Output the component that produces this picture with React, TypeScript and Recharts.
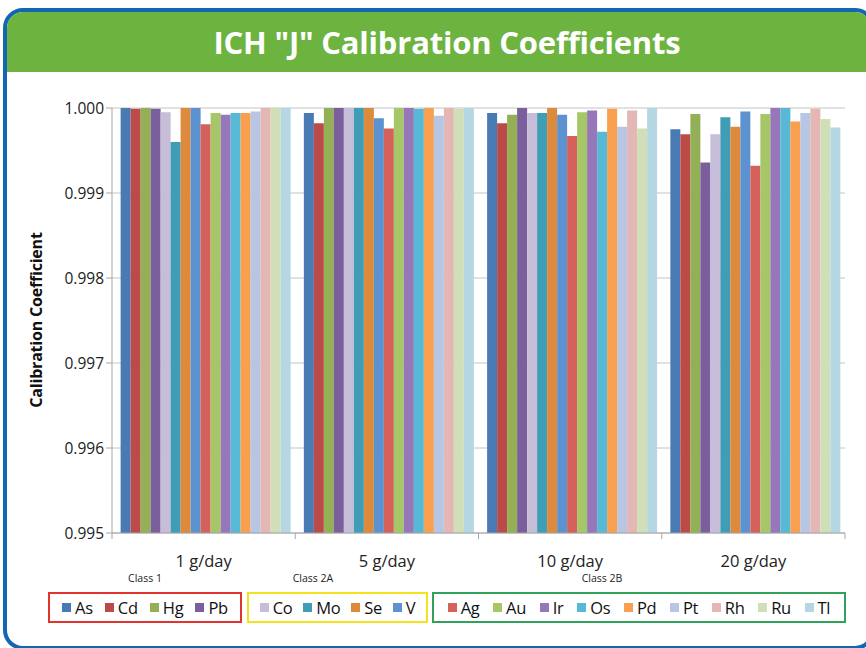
import React from "react";
import { BarChart, Bar, XAxis, YAxis, CartesianGrid } from "recharts";

// doses on the x axis
const doses = ["1 g/day", "5 g/day", "10 g/day", "20 g/day"];
const yTicks = [0.995, 0.996, 0.997, 0.998, 0.999, 1.0];

// calibration coefficient per element, one value per dose
const As = [1.0, 0.99994, 0.99994, 0.99975];
const Cd = [0.99999, 0.99982, 0.99982, 0.99969];
const Hg = [1.0, 1.0, 0.99992, 0.99993];
const Pb = [0.99999, 1.0, 1.0, 0.99936];
const Co = [0.99995, 1.0, 0.99994, 0.99969];
const Mo = [0.9996, 1.0, 0.99994, 0.99989];
const Se = [1.0, 1.0, 1.0, 0.99978];
const V = [1.0, 0.99988, 0.99992, 0.99996];
const Ag = [0.99981, 0.99976, 0.99967, 0.99932];
const Au = [0.99994, 1.0, 0.99995, 0.99993];
const Ir = [0.99992, 1.0, 0.99997, 1.0];
const Os = [0.99994, 0.99999, 0.99972, 1.0];
const Pd = [0.99994, 1.0, 0.99999, 0.99984];
const Pt = [0.99996, 0.99991, 0.99978, 0.99994];
const Rh = [1.0, 1.0, 0.99997, 0.99999];
const Ru = [1.0, 0.99999, 0.99976, 0.99987];
const Tl = [1.0, 1.0, 1.0, 0.99977];

const classes = [
  { name: "Class 1", border: "#e2332f", labelX: 145, left: 48, width: 194, elements: [
    { key: "As", values: As, color: "#4a7ab3" },
    { key: "Cd", values: Cd, color: "#bb4b48" },
    { key: "Hg", values: Hg, color: "#93b057" },
    { key: "Pb", values: Pb, color: "#7a5f9c" },
  ] },
  { name: "Class 2A", border: "#f3e21c", labelX: 313, left: 247, width: 181, elements: [
    { key: "Co", values: Co, color: "#c6bdd9" },
    { key: "Mo", values: Mo, color: "#3f9db5" },
    { key: "Se", values: Se, color: "#de8a3d" },
    { key: "V", values: V, color: "#5b92cf" },
  ] },
  { name: "Class 2B", border: "#2fa35a", labelX: 602, left: 432, width: 414, elements: [
    { key: "Ag", values: Ag, color: "#d6605a" },
    { key: "Au", values: Au, color: "#a7c667" },
    { key: "Ir", values: Ir, color: "#9678ba" },
    { key: "Os", values: Os, color: "#57b9d6" },
    { key: "Pd", values: Pd, color: "#f8a04f" },
    { key: "Pt", values: Pt, color: "#b6c6e3" },
    { key: "Rh", values: Rh, color: "#e4b7b5" },
    { key: "Ru", values: Ru, color: "#d0dfb7" },
    { key: "Tl", values: Tl, color: "#b4d7e3" },
  ] },
];

const series = classes.flatMap((c) => c.elements);

const chartData = doses.map((dose, i) => {
  const row: Record<string, any> = { dose };
  series.forEach((s) => (row[s.key] = s.values[i]));
  return row;
});

const FONT = "'Open Sans', sans-serif";
const PLOT_LEFT = 112;
const PLOT_RIGHT = 845;
const BAND = (PLOT_RIGHT - PLOT_LEFT) / doses.length;

function DoseTick(props: any) {
  const { x, y, payload, index } = props;
  const axisY = y - 8;
  return (
    <g>
      <line x1={x - BAND / 2} x2={x - BAND / 2} y1={axisY} y2={axisY + 6} stroke="#a6a6a6" />
      {index === doses.length - 1 && (
        <line x1={x + BAND / 2} x2={x + BAND / 2} y1={axisY} y2={axisY + 6} stroke="#a6a6a6" />
      )}
      <text x={x} y={axisY + 34} textAnchor="middle" fontSize={16.5} fill="#222" fontFamily={FONT}>
        {payload.value}
      </text>
    </g>
  );
}

export default function App() {
  return (
    <div style={{ position: "absolute", left: 0, top: 0, width: 866, height: 648, overflow: "hidden", background: "#fff", fontFamily: FONT }}>
      <div
        style={{
          position: "absolute", left: 3, top: 8, width: 872, height: 642,
          border: "4px solid #1366b0", borderRadius: 20, overflow: "hidden", boxSizing: "border-box",
        }}
      >
        <div
          style={{
            position: "absolute", left: 0, top: 0, width: 880, height: 60, background: "#6db33f",
            color: "#fff", fontWeight: 700, fontSize: 31, textAlign: "center", lineHeight: "60px",
            letterSpacing: -0.2, boxSizing: "border-box",
          }}
        >
          ICH "J" Calibration Coefficients
        </div>
      </div>

      <BarChart
        width={866}
        height={648}
        data={chartData}
        margin={{ top: 108, right: 866 - PLOT_RIGHT, bottom: 85, left: 42 }}
        barCategoryGap="4.7%"
        barGap={0}
        style={{ position: "absolute", left: 0, top: 0 }}
      >
        <CartesianGrid vertical={false} stroke="#c4c4c4" />
        <XAxis
          dataKey="dose"
          height={30}
          axisLine={{ stroke: "#a6a6a6" }}
          tickLine={false}
          tick={<DoseTick />}
          interval={0}
        />
        <YAxis
          width={70}
          domain={[0.995, 1.0]}
          ticks={yTicks}
          allowDataOverflow
          tickFormatter={(v: number) => v.toFixed(3)}
          axisLine={{ stroke: "#a6a6a6" }}
          tickLine={{ stroke: "#a6a6a6" }}
          tickSize={6}
          tick={{ fontSize: 15.5, fill: "#222", fontFamily: FONT }}
        />
        {series.map((s) => (
          <Bar key={s.key} dataKey={s.key} fill={s.color} isAnimationActive={false} />
        ))}
      </BarChart>

      <div
        style={{
          position: "absolute", left: 36, top: 320, transform: "translate(-50%, -50%) rotate(-90deg)",
          whiteSpace: "nowrap", fontSize: 16, fontWeight: 700, color: "#111", letterSpacing: -0.2,
        }}
      >
        Calibration Coefficient
      </div>

      {classes.map((c) => (
        <React.Fragment key={c.name}>
          <div
            style={{
              position: "absolute", left: c.labelX, top: 571, transform: "translateX(-50%)",
              fontSize: 10.5, color: "#222", whiteSpace: "nowrap",
            }}
          >
            {c.name}
          </div>
          <div
            style={{
              position: "absolute", left: c.left, top: 592, width: c.width, height: 31,
              border: `2px solid ${c.border}`, boxSizing: "border-box",
              display: "flex", alignItems: "center", justifyContent: "space-evenly",
            }}
          >
            {c.elements.map((e) => (
              <div key={e.key} style={{ display: "flex", alignItems: "center", fontSize: 16.5, color: "#111" }}>
                <span style={{ width: 9, height: 9, background: e.color, marginRight: 4, display: "inline-block" }} />
                <span style={{ letterSpacing: -0.3 }}>{e.key}</span>
              </div>
            ))}
          </div>
        </React.Fragment>
      ))}
    </div>
  );
}
